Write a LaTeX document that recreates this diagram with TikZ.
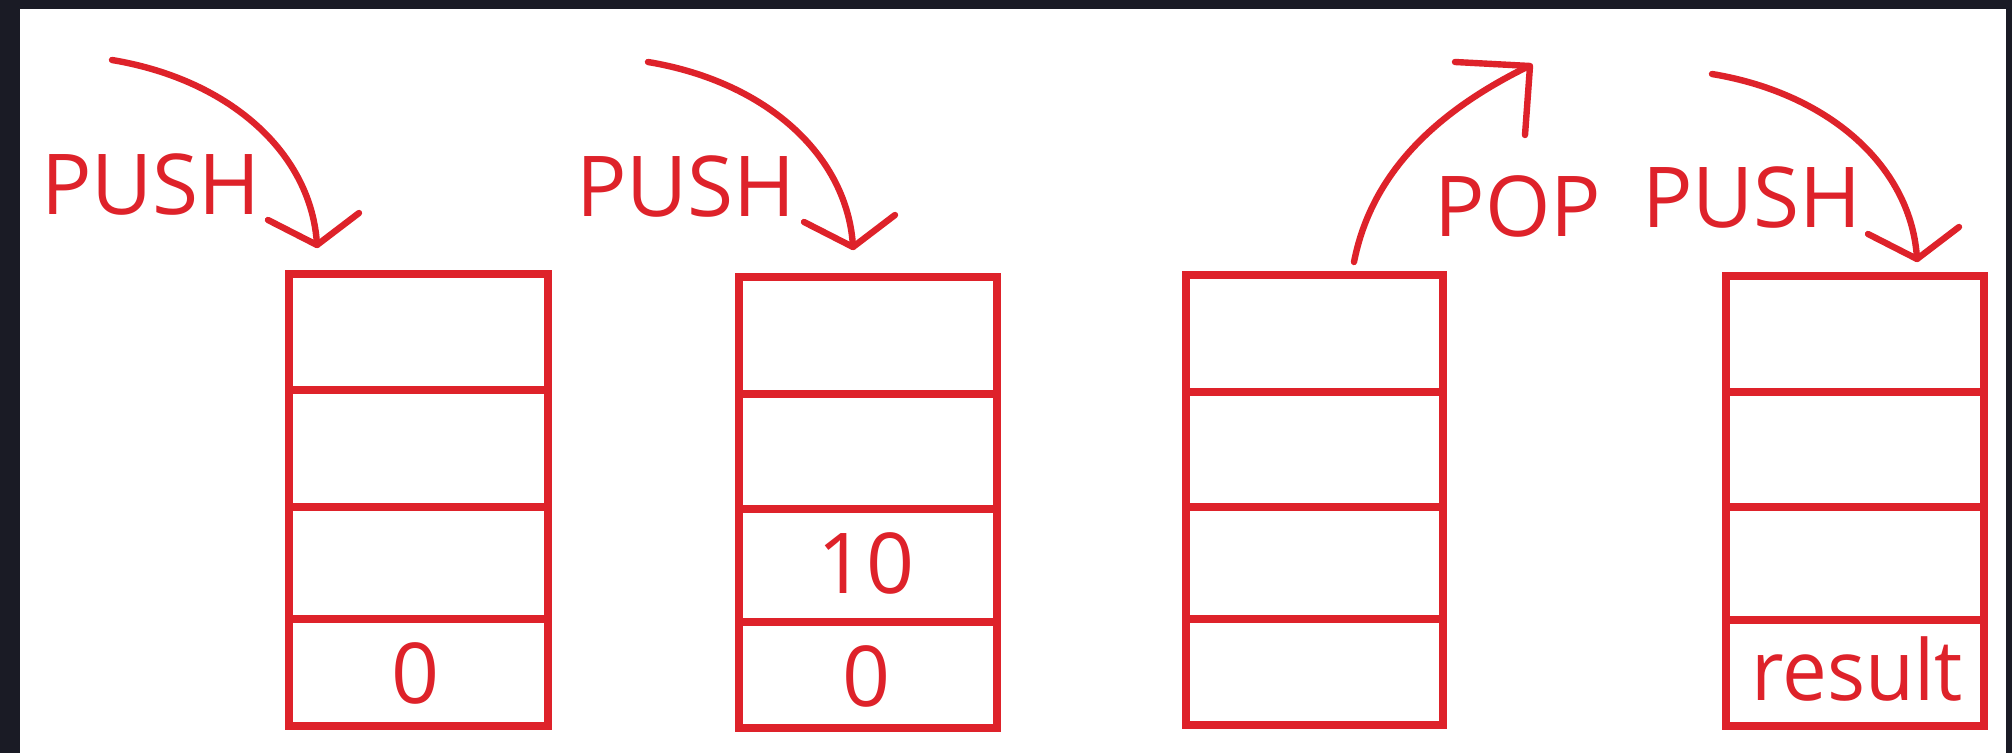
\documentclass[tikz,border=0pt]{standalone}
\usepackage{fontspec}
\setmainfont{Open Sans}
\definecolor{inkred}{RGB}{222,34,42}
\definecolor{framedark}{RGB}{26,27,37}
\begin{document}
\begin{tikzpicture}[x=0.5pt,y=-0.5pt,
  stackline/.style={draw=inkred, line width=4pt},
  arr/.style={draw=inkred, line width=3.2pt, line cap=round, line join=round},
  lbl/.style={text=inkred, font=\fontsize{42}{50}\selectfont, inner sep=0pt, anchor=base},
  pusharrow/.pic={
    \draw[arr] (0,0) .. controls (120,20) and (200,95) .. (205,185);
    \draw[arr] (156,160) -- (205,185) -- (247,153);
  }]
\useasboundingbox (0,0) rectangle (2012,753);
\fill[framedark] (0,0) rectangle (2012,753);
\fill[white] (20,9) rectangle (2006,753);

% stack 1
\draw[stackline] (289,274) rectangle (548,726);
\draw[stackline] (289,390) -- (548,390);
\draw[stackline] (289,507) -- (548,507);
\draw[stackline] (289,619) -- (548,619);
% stack 2
\draw[stackline] (739,277) rectangle (997,728);
\draw[stackline] (739,394) -- (997,394);
\draw[stackline] (739,509) -- (997,509);
\draw[stackline] (739,622) -- (997,622);
% stack 3
\draw[stackline] (1186,275) rectangle (1443,725);
\draw[stackline] (1186,392) -- (1443,392);
\draw[stackline] (1186,507) -- (1443,507);
\draw[stackline] (1186,619) -- (1443,619);
% stack 4
\draw[stackline] (1726,276) rectangle (1984,726);
\draw[stackline] (1726,392) -- (1984,392);
\draw[stackline] (1726,507) -- (1984,507);
\draw[stackline] (1726,620) -- (1984,620);

% arrows
\pic at (112,60) {pusharrow};
\pic at (648,62) {pusharrow};
\pic at (1712,74) {pusharrow};
\draw[arr] (1354,262) .. controls (1372,170) and (1440,110) .. (1527,67);
\draw[arr] (1455,62) -- (1530,66) -- (1525,135);

% labels
\node[lbl] (push1) at (151,215) {PUSH};
\node[lbl] (push2) at (686,217) {PUSH};
\node[lbl] (pop) at (1518,237) {POP};
\node[lbl] (push3) at (1752,228) {PUSH};
\node[lbl] (v0a) at (416,703) {0};
\node[lbl] (v10) at (866,593) {10};
\node[lbl] (v0b) at (867,706) {0};
\node[lbl, xscale=0.95] (vres) at (1857,700) {result};
\end{tikzpicture}
\end{document}
